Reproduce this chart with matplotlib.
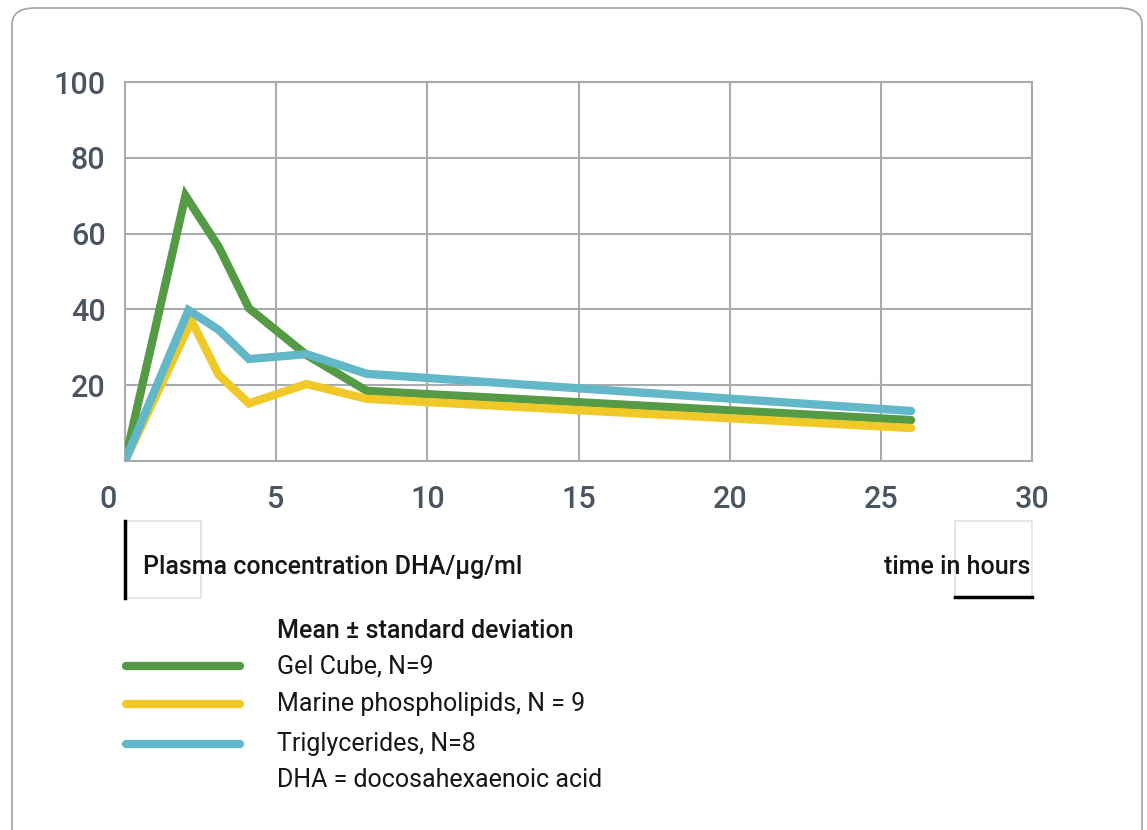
import numpy as np
import matplotlib
matplotlib.use("Agg")
import matplotlib.pyplot as plt
import matplotlib.transforms as mtransforms
from matplotlib.patches import FancyBboxPatch, Rectangle
from matplotlib.lines import Line2D

# values (hours, DHA ug/ml)
gel_t = [0, 2, 3.1, 4.1, 6, 8, 26]
gel_v = [0, 70, 56.5, 40.3, 28, 18.5, 10.8]

marine_t = [0, 2.2, 3.1, 4.1, 6, 8, 26]
marine_v = [0, 37, 22.7, 15.2, 20.3, 16.4, 8.7]

trig_t = [0, 2.1, 3.1, 4.1, 6, 8, 26]
trig_v = [0, 39.8, 34.6, 26.9, 28.2, 23.0, 13.2]

x_ticks = [0, 5, 10, 15, 20, 25, 30]
y_ticks = [20, 40, 60, 80, 100]

legend_title = "Mean ± standard deviation"
legend_labels = ["Gel Cube, N=9", "Marine phospholipids, N = 9", "Triglycerides, N=8"]
legend_note = "DHA = docosahexaenoic acid"

green = "#559a45"
yellow = "#f0c928"
blue = "#62b8c9"
grid_col = "#a9acaf"
tick_col = "#4b5561"
text_col = "#161616"

W, H = 1147, 830
fig = plt.figure(figsize=(W / 100, H / 100), dpi=100)
fig.patch.set_facecolor("white")

def fx(px):
    return px / W

def fy(py):
    return 1 - py / H

# outer rounded frame (bottom runs off the picture)
frame = FancyBboxPatch((fx(12), fy(860)), fx(1142) - fx(12), fy(8) - fy(860),
                       boxstyle="round,pad=0,rounding_size=0.02",
                       transform=fig.transFigure, fill=False,
                       edgecolor="#a0a3a6", linewidth=1.2)
fig.patches.append(frame)

ax = fig.add_axes([fx(125), fy(461), fx(1032) - fx(125), fy(82) - fy(461)])
ax.set_xlim(0, 30)
ax.set_ylim(0, 100)
ax.set_xticks(x_ticks)
ax.set_yticks(y_ticks)
ax.grid(True, color=grid_col, linewidth=1.5)
ax.set_axisbelow(True)
for s in ax.spines.values():
    s.set_color(grid_col)
    s.set_linewidth(1.5)
ax.tick_params(length=0, labelsize=22, labelcolor=tick_col)
ax.tick_params(axis="y", pad=14)
ax.tick_params(axis="x", pad=17)
for lab in ax.get_xticklabels() + ax.get_yticklabels():
    lab.set_fontfamily("Roboto")
    lab.set_fontweight("medium")

# the "0" label sits a bit left of the axis
zero = ax.get_xticklabels()[0]
zero.set_transform(zero.get_transform() + mtransforms.ScaledTranslation(-0.17, 0, fig.dpi_scale_trans))

lw = 6
ax.plot(gel_t, gel_v, color=green, lw=lw, solid_capstyle="round", solid_joinstyle="miter", zorder=3)
ax.plot(marine_t, marine_v, color=yellow, lw=lw, solid_capstyle="round", solid_joinstyle="miter", zorder=4)
ax.plot(trig_t, trig_v, color=blue, lw=lw, solid_capstyle="round", solid_joinstyle="miter", zorder=5)

# axis captions with their little decorations
fig.patches.append(Rectangle((fx(125), fy(598)), fx(201) - fx(125), fy(521) - fy(598),
                             transform=fig.transFigure, fill=False, edgecolor="#dfe2e4", lw=1.2))
fig.patches.append(Rectangle((fx(955), fy(598)), fx(1032) - fx(955), fy(521) - fy(598),
                             transform=fig.transFigure, fill=False, edgecolor="#dfe2e4", lw=1.2))
fig.lines.append(Line2D([fx(125), fx(125)], [fy(521), fy(598)], transform=fig.transFigure,
                        color="black", lw=2.5))
fig.lines.append(Line2D([fx(955), fx(1032)], [fy(597), fy(597)], transform=fig.transFigure,
                        color="black", lw=2.5))

fig.text(fx(143), fy(567), "Plasma concentration DHA/µg/ml", fontsize=18, fontweight="medium",
         family="Roboto", color=text_col, va="center", ha="left")
fig.text(fx(1030), fy(567), "time in hours", fontsize=18, fontweight="medium",
         family="Roboto", color=text_col, va="center", ha="right")

# legend drawn by hand
fig.text(fx(277), fy(631), legend_title, fontsize=18, fontweight="medium",
         family="Roboto", color=text_col, va="center", ha="left")
leg_y = [666, 704, 744]
for c, lab, yy in zip([green, yellow, blue], legend_labels, leg_y):
    fig.lines.append(Line2D([fx(126), fx(240)], [fy(yy), fy(yy)], transform=fig.transFigure,
                            color=c, lw=6, solid_capstyle="round"))
    fig.text(fx(277), fy(yy), lab, fontsize=18, fontweight="normal",
             family="Roboto", color=text_col, va="center", ha="left")
fig.text(fx(277), fy(780), legend_note, fontsize=18, fontweight="normal",
         family="Roboto", color=text_col, va="center", ha="left")

fig.savefig("out.png", dpi=100, facecolor="white")
